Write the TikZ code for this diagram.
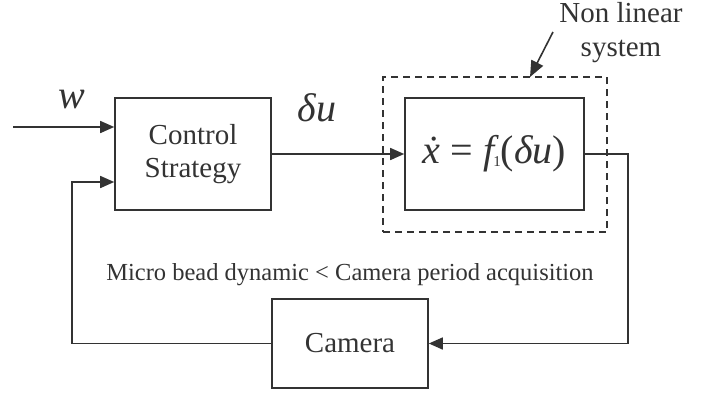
\documentclass[tikz,border=0pt]{standalone}
\usepackage{fontspec}
\setmainfont{Liberation Serif}
\usetikzlibrary{arrows.meta}
\definecolor{inkgray}{gray}{0.2}

\begin{document}
\begin{tikzpicture}[x=1pt,y=-1pt,
    ink/.style={draw=inkgray,line width=1.6pt},
    block/.style={ink,rectangle,inner sep=0pt,text=inkgray,font=\fontsize{29}{33}\selectfont,align=center},
    sig/.style={ink,-{Triangle[length=14pt,width=12pt]}},
    sym/.style={text=inkgray,inner sep=0pt,font=\fontsize{40}{40}\selectfont\itshape}]

    \useasboundingbox (0,0) rectangle (710,397);

    \node[block,minimum width=156pt,minimum height=112pt]         (ctrl) at (193, 154)     {Control\\Strategy};
    \node[block,minimum width=179pt,minimum height=112pt,font=\fontsize{40}{40}\selectfont]
                                                                   (plant) at (494.5, 154)  {{\itshape\.{x}} = {\itshape f}\kern-1pt\raisebox{-0.06em}{\fontsize{15}{15}\selectfont 1}({\itshape δu})};
    \node[ink,dash pattern=on 7pt off 5pt,minimum width=224pt,minimum height=155pt]
                                                                   (nlsys) at (495, 154.5)  {};
    \node[block,minimum width=156pt,minimum height=89pt]          (cam) at (350, 343.5)    {Camera};

    \node[sym]                                                     (wlabel) at (72, 100)    {w};
    \node[sym]                                                     (dulabel) at (317, 108)  {δu};
    \node[text=inkgray,font=\fontsize{24.5}{28}\selectfont]        (note) at (350, 275)     {Micro bead dynamic < Camera period acquisition};
    \node[text=inkgray,align=center,font=\fontsize{29}{34}\selectfont]
                                                                   (nltag) at (621, 33)     {Non linear\\system};

    \coordinate (win) at (13, 127);
    \coordinate (fbcorner) at (72, 182);
    \coordinate (outcorner) at (628, 154);
    \coordinate (tagtail) at (553, 32);
    \coordinate (tagtip) at (530, 77);

    \draw[sig] (win) -- (win -| ctrl.west);
    \draw[sig] (ctrl.east) -- (plant.west);
    \draw[sig] (plant.east) -- (outcorner) |- (cam.east);
    \draw[sig] (cam.west) -| (fbcorner) -- (fbcorner -| ctrl.west);
    \draw[ink,-{Triangle[length=16pt,width=13pt]}] (tagtail) -- (tagtip);
  \end{tikzpicture}
\end{document}
